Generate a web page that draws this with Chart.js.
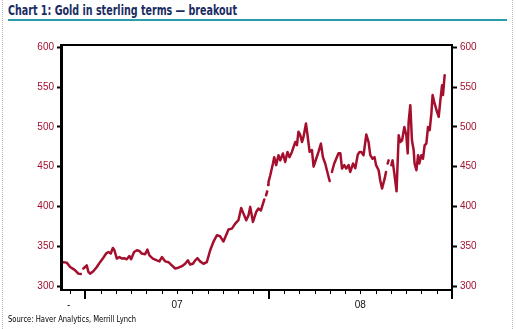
<!DOCTYPE html>
<html><head><meta charset="utf-8">
<script src="https://cdn.jsdelivr.net/npm/chart.js@4.4.1/dist/chart.umd.min.js"></script>
<style>
html,body{margin:0;padding:0;background:#fff;}
#wrap{position:relative;width:516px;height:329px;overflow:hidden;background:#fff;}
canvas{position:absolute;left:0;top:0;}
.t{position:absolute;white-space:nowrap;transform-origin:0 0;}
#title{left:8px;top:3px;font-weight:bold;font-size:14px;line-height:14px;font-family:"Liberation Sans Narrow","DejaVu Sans Condensed","Liberation Sans",sans-serif;color:#1b2d63;}
#rule{position:absolute;left:8px;top:19px;width:499px;height:2px;background:#2a9cab;}
#src{left:8px;top:315px;font-size:8.5px;line-height:9px;font-family:"Liberation Sans Narrow","DejaVu Sans Condensed","Liberation Sans",sans-serif;color:#000;}
.dot{position:absolute;top:0;height:329px;width:0;border-left:1px dotted #bbb;}
</style>
</head><body>
<div id="wrap">
  <div class="dot" style="left:2px"></div>
  <div class="dot" style="left:512px"></div>
  <div class="t" id="title">Chart 1: Gold in sterling terms — breakout</div>
  <div id="rule"></div>
  <canvas id="c" width="516" height="329"></canvas>
  <div class="t" id="src">Source: Haver Analytics, Merrill Lynch</div>
</div>
<script>
// x: months since Jan 2007 (0 = start of 2007); null value = gap in the series
const months = [-1.44,-1.22,-1.00,-0.83,-0.67,-0.46,-0.30,-0.22,-0.13,0.09,0.20,0.31,0.52,0.75,0.96,1.14,1.36,1.51,1.66,1.80,1.90,2.06,2.23,2.38,2.54,2.71,2.88,2.99,3.19,3.37,3.54,3.69,3.91,4.06,4.19,4.42,4.68,4.85,5.01,5.22,5.44,5.66,5.88,6.09,6.32,6.53,6.71,6.86,7.04,7.19,7.34,7.51,7.73,7.95,8.17,8.38,8.61,8.82,9.04,9.37,9.59,9.81,10.02,10.20,10.35,10.53,10.68,10.79,10.97,11.18,11.33,11.49,11.71,11.78,11.83,11.90,11.93,11.96,11.99,12.10,12.28,12.36,12.49,12.64,12.76,12.93,13.08,13.23,13.36,13.52,13.63,13.74,13.85,13.95,14.07,14.18,14.28,14.44,14.57,14.68,14.83,14.94,15.11,15.26,15.42,15.55,15.70,15.81,15.99,16.06,16.14,16.29,16.42,16.57,16.69,16.80,16.95,17.08,17.23,17.34,17.52,17.67,17.83,17.95,18.06,18.21,18.39,18.54,18.65,18.80,18.93,19.03,19.20,19.30,19.42,19.59,19.68,19.73,19.79,19.85,19.93,20.03,20.11,20.24,20.37,20.51,20.62,20.73,20.88,21.01,21.10,21.16,21.27,21.38,21.49,21.55,21.67,21.78,21.86,21.99,22.10,22.21,22.32,22.43,22.54,22.65,22.73,22.86,23.02,23.13,23.24,23.35,23.41,23.52];
const gold = [330,329.4,324,321.9,319.8,315.6,315,null,322,326,317.6,315.6,318.5,324,330,334.5,340.8,342.8,340.8,347.8,345,334.5,336.5,334.5,335,333.6,337.7,333.6,342.8,345,344,340.8,340,345.8,338.6,334.5,332.3,331,336.5,331,330,326,322,323,325,328,332.3,327,328,332.3,335,331,328,330,345,355.4,363.8,362.5,356,371,372.2,378.5,382.7,398,391,382.7,389,399.5,380.5,393,397.4,395,408.7,null,414,419,null,427,431,439,454,462,452,464.5,458,466.6,456,468.6,462,468.6,475,481,477,494,489.6,481,487.5,504.3,485.5,468.6,471,450,460,468.6,479,462,454,445.6,432,null,443.4,454,460,467,467,447.7,452,447.7,452,443.4,454,448,465,468.6,468.6,464.5,490.5,481,464.5,460,462,452,445.6,433,422.5,435,443.4,null,454,458,null,452,458,439,419,489.6,481,483,500,489.6,466.6,506,527.4,483,471,454,445.6,464.5,454,464.5,460,477,479,500,496,517,540,529.5,519,512.7,533.7,552.5,540,565];
const yTicks = [300,350,400,450,500,550,600];
const xMinorTicks = [-1,1,2,3,4,5,6,7,8,9,10,11,13,14,15,16,17,18,19,20,21,22,23];
const xMajorTicks = [0,12,24];
const xLabelValues = [-1.1,6,18];
const xLabelTexts = ['-','07','08'];

const frame = {
  id:'frame',
  afterDraw(chart){
    const {ctx, chartArea:a, scales} = chart;
    ctx.save();
    ctx.fillStyle = '#000';
    ctx.fillRect(a.left-2, a.top-1, 3, a.bottom-a.top+2);
    ctx.fillRect(a.left, a.top-1, a.right-a.left+1, 2);
    ctx.fillRect(a.right-1, a.top-1, 2, a.bottom-a.top+2);
    ctx.fillRect(a.left-2, a.bottom-1, a.right-a.left+3, 2);
    const xs = scales.x;
    xMinorTicks.forEach(v=>{
      const px = Math.round(xs.getPixelForValue(v));
      ctx.fillRect(px, a.bottom, 1, 4);
    });
    xMajorTicks.forEach(v=>{
      const px = Math.round(xs.getPixelForValue(v));
      ctx.fillRect(px-1, a.bottom, 2, 9);
    });
    ctx.restore();
  }
};

const yCommon = {
  min:295, max:603,
  afterBuildTicks: s => { s.ticks = yTicks.map(v=>({value:v})); },
  ticks:{color:'#a3102f', padding:3, font:{family:'"Liberation Sans", Arial, sans-serif', size:10}},
  grid:{drawOnChartArea:false, drawTicks:true, tickLength:5, tickWidth:2, tickColor:'#000'},
  border:{display:false}
};

new Chart(document.getElementById('c').getContext('2d'), {
  type:'line',
  data:{datasets:[{
    data: months.map((m,i)=>({x:m, y:gold[i]})),
    borderColor:'#a50f2e', borderWidth:2.5, pointRadius:0, tension:0,
    borderJoinStyle:'round', borderCapStyle:'round',
    spanGaps:false, fill:false, yAxisID:'y'
  }]},
  options:{
    responsive:false, animation:false, devicePixelRatio:1,
    layout:{padding:{top:45,left:0,right:0,bottom:0}},
    plugins:{legend:{display:false}, tooltip:{enabled:false}, title:{display:false}},
    scales:{
      x:{
        type:'linear', min:-1.53, max:24,
        afterFit: s => { s.height = 39; },
        afterBuildTicks: s => { s.ticks = xLabelValues.map(v=>({value:v})); },
        ticks:{
          autoSkip:false, maxRotation:0, padding:3, color:'#111',
          font:{family:'"Liberation Sans", Arial, sans-serif', size:10},
          callback: v => { const i = xLabelValues.indexOf(v); return i>=0 ? xLabelTexts[i] : ''; }
        },
        grid:{display:true, drawOnChartArea:false, drawTicks:true, tickLength:6, tickColor:'rgba(0,0,0,0)'},
        border:{display:false}
      },
      y: Object.assign({}, yCommon, {position:'left', afterFit: s => { s.width = 62; }}),
      y2: Object.assign({}, yCommon, {position:'right', afterFit: s => { s.width = 64; }})
    }
  },
  plugins:[frame]
});

function fit(id, w){
  const el = document.getElementById(id);
  const r = el.getBoundingClientRect();
  if (r.width > 0) el.style.transform = 'scaleX(' + (w / r.width) + ')';
}
fit('title', 229);
fit('src', 128);
</script>
</body></html>
